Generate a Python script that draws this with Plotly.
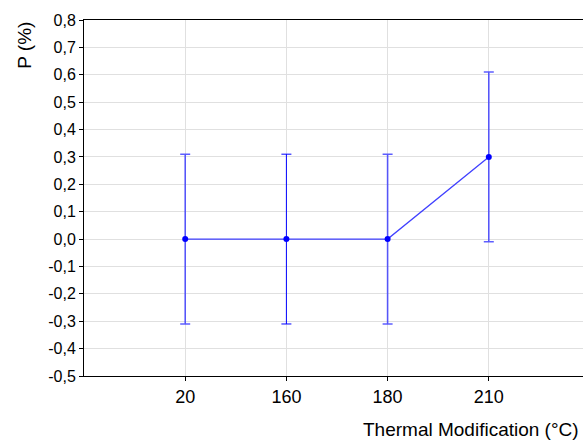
import plotly.graph_objects as go

categories = ["20", "160", "180", "210"]
p_values = [0.0, 0.0, 0.0, 0.30]
p_errors = [0.31, 0.31, 0.31, 0.31]
y_tickvals = [0.8, 0.7, 0.6, 0.5, 0.4, 0.3, 0.2, 0.1, 0.0, -0.1, -0.2, -0.3, -0.4, -0.5]
y_ticktext = ["0,8", "0,7", "0,6", "0,5", "0,4", "0,3", "0,2", "0,1", "0,0",
              "-0,1", "-0,2", "-0,3", "-0,4", "-0,5"]

FONT = "Liberation Sans, Arial, sans-serif"

fig = go.Figure()

# error bars
for i, c in enumerate(categories):
    dark = (c == "160")
    fig.add_trace(go.Scatter(
        x=[c], y=[p_values[i]], mode="markers",
        marker=dict(size=1, color="rgba(0,0,0,0)"),
        error_y=dict(type="data", array=[p_errors[i]], visible=True,
                     color="#0000ff" if dark else "rgba(40,40,255,0.75)",
                     thickness=1 if dark else 1.6, width=5),
        showlegend=False, hoverinfo="skip"))

# line connecting means
fig.add_trace(go.Scatter(
    x=categories, y=p_values, mode="lines+markers",
    line=dict(color="rgba(30,30,255,0.85)", width=1.3),
    marker=dict(size=6, color="#0000ff"),
    showlegend=False))

axis_common = dict(showline=True, linecolor="black", linewidth=1, mirror=True,
                   showgrid=True, gridcolor="#e0e0e0", gridwidth=1,
                   ticks="outside", ticklen=4, tickcolor="black",
                   zeroline=False)

fig.update_layout(
    width=590, height=442,
    margin=dict(l=84, r=0, t=20, b=66),
    paper_bgcolor="white", plot_bgcolor="white",
    font=dict(family=FONT, color="black"),
    xaxis=dict(type="category", range=[-1, 4.0],
               tickfont=dict(family=FONT, size=18, color="black"), **axis_common),
    yaxis=dict(range=[-0.5, 0.8], tickvals=y_tickvals, ticktext=y_ticktext,
               tickfont=dict(family=FONT, size=16, color="black"), **axis_common),
    annotations=[
        dict(text="P (%)", x=-0.118, y=1.0, xref="paper", yref="paper",
             xanchor="center", yanchor="top", textangle=-90, showarrow=False,
             font=dict(family=FONT, size=19, color="black")),
        dict(text="Thermal Modification (°C)", x=0.982, y=-0.115, xref="paper", yref="paper",
             xanchor="right", yanchor="top", showarrow=False,
             font=dict(family=FONT, size=19, color="black")),
    ],
)

fig.write_html("out.html", config={"displayModeBar": False},
               post_script="document.body.style.margin='0';document.body.style.overflow='hidden';")
